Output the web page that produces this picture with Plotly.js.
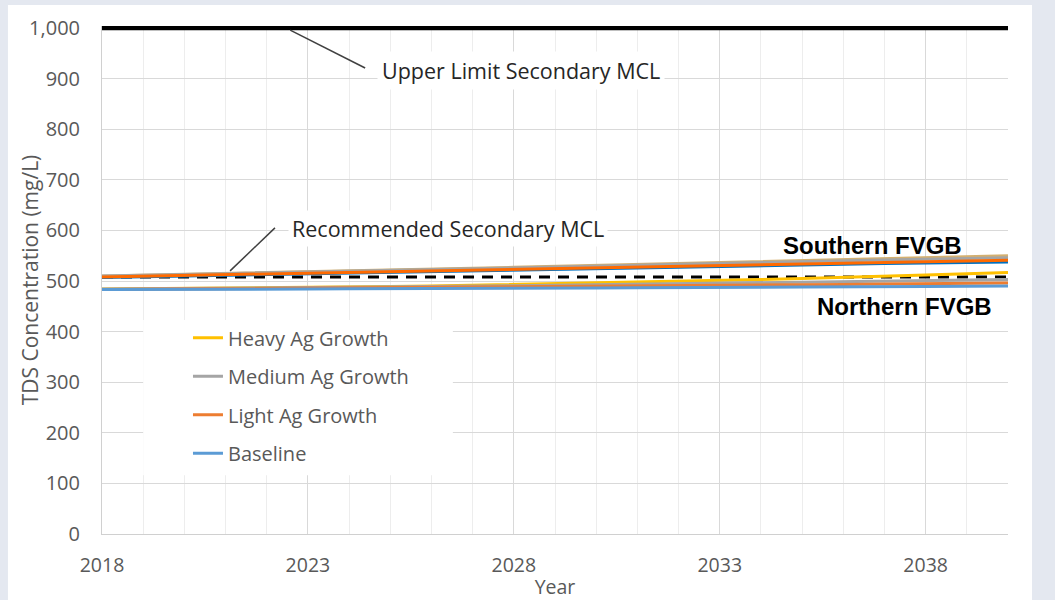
<!DOCTYPE html>
<html>
<head>
<meta charset="utf-8">
<script src="https://cdn.plot.ly/plotly-3.0.1.min.js"></script>
<style>html,body{margin:0;padding:0;background:#e4e8f0;}#chart{width:1055px;height:600px;}</style>
</head>
<body>
<div id="chart"></div>
<script>
// ---- data ----
const years = [2018,2019,2020,2021,2022,2023,2024,2025,2026,2027,2028,2029,2030,2031,2032,2033,2034,2035,2036,2037,2038,2039,2040];

// Southern FVGB
const southHeavy    = [510,511.5,513,515,516.5,518,520,521.5,523,525,527,529,531,533,535,537,539,541,543,545,546.5,548,550];
const southMedium   = [510,511,513,514.5,516,517.5,519,520.5,522,524,526,527.5,529,531,533,535,536.5,538,540,541.5,543,544.5,546];
const southLight    = [508,509.5,511,512.5,514,515.5,517,518.5,520,521.5,523,524.5,526,527.5,529,530.5,532,533.5,535,536.5,538,539.5,541];
const southBaseline = [507,508.5,510,511,512.5,514,515.5,517,518.5,520,521.5,523,524.5,526,527.5,529,530.5,532,533,534.5,535.5,536.5,537.5];

// Northern FVGB
const northHeavy    = [484,484.5,485,485.5,486,487,488,489,490,491.5,493,494.5,496,497.5,499,501,503,505,507,509.5,512,514.5,517];
const northMedium   = [484,484.5,485,485.5,486,486.5,487,488,489,489.5,490.5,491.5,492.5,493.5,494.5,495.5,496.5,497.5,498.5,499.5,500.5,502,503];
const northLight    = [483,483.5,484,484.5,485,485.5,486,486.5,487,487.5,488,488.5,489,489.5,490,491,491.5,492.5,493,494,494.5,495.5,496];
const northBaseline = [483,483,483.5,483.5,484,484,484.5,484.5,485,485,485.5,485.5,486,486.5,486.5,487,487.5,488,488,488.5,489,489.5,490];

// MCL reference lines
const mclYears = [2018, 2040];
const upperLimitMCL = [1000, 1000];
const recommendedMCL = [508, 508];

const seriesNames = ['Heavy Ag Growth','Medium Ag Growth','Light Ag Growth','Baseline'];
const yTickVals = [0,100,200,300,400,500,600,700,800,900,1000];

// ---- styles ----
const C = {heavy:'#FFC000', medium:'#A5A5A5', light:'#ED7D31', base:'#5B9BD5'};
const SC = {heavy:'#D4B070', medium:'#A5A5A5', light:'#FF6A00', base:'#0070C0'};
const LW = 3;
const txt = '#595959';
const font = 'Open Sans, sans-serif';

function tr(y, name, color, show, group){
  return {x: years, y: y, type:'scatter', mode:'lines', name: name,
    line:{color: color, width: LW}, showlegend: show, legendgroup: group, hoverinfo:'x+y+name'};
}

const traces = [
  {x: mclYears, y: upperLimitMCL, type:'scatter', mode:'lines', name:'Upper Limit Secondary MCL',
    line:{color:'#000000', width:4.5}, showlegend:false},
  {x: mclYears, y: recommendedMCL, type:'scatter', mode:'lines', name:'Recommended Secondary MCL',
    line:{color:'#000000', width:3, dash:'11px,8px'}, showlegend:false},
  tr(southBaseline, seriesNames[3], SC.base, false, 'g4'),
  tr(southHeavy, seriesNames[0], SC.heavy, false, 'g1'),
  tr(southMedium, seriesNames[1], SC.medium, false, 'g2'),
  tr(southLight, seriesNames[2], SC.light, false, 'g3'),
  tr(northHeavy, seriesNames[0], C.heavy, true, 'g1'),
  tr(northMedium, seriesNames[1], C.medium, true, 'g2'),
  tr(northLight, seriesNames[2], C.light, true, 'g3'),
  tr(northBaseline, seriesNames[3], C.base, true, 'g4')
];

const layout = {
  width:1055, height:600,
  margin:{l:102, r:47, t:26, b:66},
  paper_bgcolor:'#e4e8f0',
  plot_bgcolor:'#ffffff',
  font:{family:font, color:txt, size:20},
  showlegend:true,
  legend:{x:0.0949, y:0.4248, xanchor:'left', yanchor:'top', bgcolor:'rgba(0,0,0,0)',
    font:{family:font, size:20, color:txt}, traceorder:'grouped', tracegroupgap:9.5},
  xaxis:{range:[2018,2040], tick0:2018, dtick:5, showgrid:true, gridcolor:'#d9d9d9', gridwidth:1,
    minor:{dtick:1, showgrid:true, gridcolor:'#ededed', gridwidth:1},
    showline:true, linecolor:'#d0d0d0', linewidth:1, zeroline:false, ticks:'',
    tickfont:{family:font, size:19.5, color:txt}, ticklabelstandoff:14,
    title:{text:'Year', font:{family:font, size:19.5, color:txt}}},
  yaxis:{range:[0,1004], tickvals:yTickVals, tickformat:',d', showgrid:true, gridcolor:'#d9d9d9', gridwidth:1,
    showline:true, linecolor:'#d0d0d0', linewidth:1, zeroline:false, ticks:'',
    tickfont:{family:font, size:20, color:txt}, ticklabelstandoff:17,
    title:{text:'TDS Concentration (mg/L)', font:{family:font, size:21, color:txt}}},
  shapes:[
    {type:'rect', xref:'paper', yref:'paper', x0:-0.1038, x1:1.0265, y0:-0.1299, y1:1.0413,
      fillcolor:'#ffffff', line:{width:0}, layer:'below'},
    {type:'rect', xref:'x', yref:'y', x0:2019.0, x1:2026.52, y0:116, y1:423,
      fillcolor:'#ffffff', line:{width:0}, layer:'between'},
    {type:'line', xref:'x', yref:'y', x0:2022.57, y0:996, x1:2024.39, y1:921,
      line:{color:'#404040', width:1.5}},
    {type:'line', xref:'x', yref:'y', x0:2021.11, y0:520, x1:2022.2, y1:605,
      line:{color:'#404040', width:1.5}}
  ],
  annotations:[
    {x:2028.17, y:917, xref:'x', yref:'y', text:'Upper Limit Secondary MCL', showarrow:false,
      font:{family:font, size:21.5, color:'#262626'}, bgcolor:'#ffffff', borderpad:4},
    {x:2026.39, y:603, xref:'x', yref:'y', text:'Recommended Secondary MCL', showarrow:false,
      font:{family:font, size:21.5, color:'#262626'}, bgcolor:'#ffffff', borderpad:3},
    {x:2036.72, y:571, xref:'x', yref:'y', text:'<b>Southern FVGB</b>', showarrow:false,
      font:{family:'Liberation Sans, Arial, sans-serif', size:24, color:'#000000'}},
    {x:2037.48, y:449, xref:'x', yref:'y', text:'<b>Northern FVGB</b>', showarrow:false,
      font:{family:'Liberation Sans, Arial, sans-serif', size:24, color:'#000000'}}
  ]
};

Plotly.newPlot('chart', traces, layout, {displayModeBar:false, responsive:false});
</script>
</body>
</html>
